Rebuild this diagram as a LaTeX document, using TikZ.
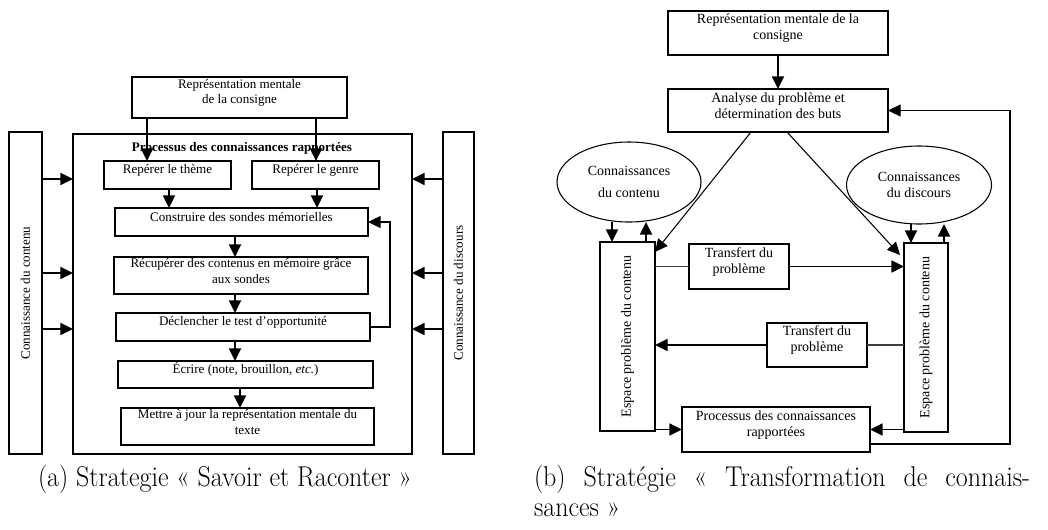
\documentclass[tikz,border=0pt]{standalone}
\usepackage{fontspec}
\newfontfamily\tnr{Liberation Serif}
\usetikzlibrary{arrows.meta,fit,shapes.geometric}
\begin{document}
\begin{tikzpicture}[x=0.75pt,y=-0.75pt,
  every node/.style={inner sep=0pt, outer sep=0pt},
  abox/.style={draw, line width=0.9pt, align=center, font=\tnr\fontsize{9.8}{11.5}\selectfont},
  bbox/.style={draw, line width=0.8pt, align=center, font=\tnr\fontsize{10.5}{12}\selectfont},
  atext/.style={font=\tnr\fontsize{9.8}{11.5}\selectfont},
  btext/.style={font=\tnr\fontsize{10.5}{12}\selectfont},
  arr/.style={line width=1.3pt, -{Triangle[length=9.5pt,width=9pt]}},
  tarr/.style={line width=0.8pt, -{Triangle[length=9.5pt,width=9pt]}},
  thinline/.style={line width=0.8pt, black!75},
  capfont/.style={font=\fontsize{19.5}{17.5}\selectfont},
  ]
\useasboundingbox (0,0) rectangle (1048,529);
% ---------------- (a) ----------------
\node[abox, fit={(132,77) (347,118)}] (Atop) {Représentation mentale\\de la consigne};
\node[abox, fit={(9,132) (42,454)}] (Aleft) {};
\node[atext, rotate=90] (AleftT) at (Aleft.center) {Connaissance du contenu};
\node[abox, fit={(73,134) (412,454)}] (Aproc) {};
\node[atext, font=\tnr\bfseries\fontsize{9.8}{11.5}\selectfont] (Atitle) at (242,148) {Processus des connaissances rapportées};
\node[abox, fit={(443,132) (474,454)}] (Aright) {};
\node[atext, rotate=90] (ArightT) at (Aright.center) {Connaissance du discours};
\node[abox, fit={(104,161) (231,189)}] (Atheme) {Repérer le thème};
\node[abox, fit={(252,161) (379,189)}] (Agenre) {Repérer le genre};
\node[abox, fit={(115,208) (368,236)}] (Aconstr) {Construire des sondes mémorielles};
\node[abox, fit={(114,257) (368,294)}] (Arecup) {Récupérer des contenus en mémoire grâce\\aux sondes};
\node[abox, fit={(116,313) (370,341)}] (Adecl) {Déclencher le test d’opportunité};
\node[abox, fit={(118,361) (373,388)}] (Aecr) {Écrire (note, brouillon, \textit{etc.})};
\node[abox, fit={(121,408) (374,445)}] (Amaj) {Mettre à jour la représentation mentale du\\texte};

\draw[arr] (Atop.south -| 147,0) -- (Atheme.north -| 147,0);
\draw[arr] (Atop.south -| 316,0) -- (Agenre.north -| 316,0);
\draw[arr] (Atheme.south -| 169,0) -- (Aconstr.north -| 169,0);
\draw[arr] (Agenre.south -| 317,0) -- (Aconstr.north -| 317,0);
\draw[arr] (Aconstr.south -| 235,0) -- (Arecup.north -| 235,0);
\draw[arr] (Arecup.south -| 235,0) -- (Adecl.north -| 235,0);
\draw[arr] (Adecl.south -| 235,0) -- (Aecr.north -| 235,0);
\draw[arr] (Aecr.south -| 240,0) -- (Amaj.north -| 240,0);
\draw[arr, line width=0.9pt] (Adecl.east) -- (390,0 |- Adecl.east) |- (Aconstr.east);
\foreach \yy in {179,273,329}{
  \draw[arr] (Aleft.east |- 0,\yy) -- (Aproc.west |- 0,\yy);
  \draw[arr] (Aright.west |- 0,\yy) -- (Aproc.east |- 0,\yy);
}
% ---------------- (b) ----------------
\node[bbox, fit={(668,11) (888,55)}] (Btop) {Représentation mentale de la\\consigne};
\node[bbox, fit={(668,89) (888,132)}] (Banal) {Analyse du problème et\\détermination des buts};
\node[draw, ellipse, line width=0.8pt, minimum width=144*0.75pt, minimum height=80*0.75pt, align=center,
      font=\tnr\fontsize{10.5}{17}\selectfont] (BellL) at (629,182) {Connaissances\\du contenu};
\node[draw, ellipse, line width=0.8pt, minimum width=145*0.75pt, minimum height=78*0.75pt, align=center,
      font=\tnr\fontsize{10.5}{12.5}\selectfont] (BellR) at (919,185) {Connaissances\\du discours};
\node[bbox, fit={(600,242) (655,431)}] (BespL) {};
\node[btext, rotate=90] (BespLT) at (BespL.center) {Espace problème du contenu};
\node[bbox, fit={(904,243) (948,432)}] (BespR) {};
\node[btext, rotate=90] (BespRT) at (BespR.center) {Espace problème du contenu};
\node[bbox, fit={(689,244) (789,289)}] (Btr1) {Transfert du\\problème};
\node[bbox, fit={(767,323) (867,367)}] (Btr2) {Transfert du\\problème};
\node[bbox, fit={(682,407) (870,452)}] (Bproc) {Processus des connaissances\\rapportées};

\draw[arr] (Btop.south) -- (Banal.north);
\draw[tarr] (Banal.south -| 751,0) -- ([yshift=-7.5pt]BespL.north east);
\draw[tarr] (Banal.south -| 787,0) -- ([xshift=-3pt,yshift=-9pt]BespR.north west);
\draw[arr] (BellL.south -| 612,0) -- (BespL.north -| 612,0);
\draw[arr] (BespL.north -| 646,0) -- (BellL.south -| 646,0);
\draw[arr] (BellR.south -| 911,0) -- (BespR.north -| 911,0);
\draw[arr] (BespR.north -| 944,0) -- (BellR.south -| 944,0);
\draw[thinline] (BespL.east |- Btr1.west) -- (Btr1.west);
\draw[arr] (Btr1.east) -- (BespR.west |- Btr1.east);
\draw[thinline] (BespR.west |- Btr2.east) -- (Btr2.east);
\draw[arr] (Btr2.west) -- (BespL.east |- Btr2.west);
\draw[arr] (BespL.east |- Bproc.west) -- (Bproc.west);
\draw[arr] (BespR.west |- Bproc.east) -- (Bproc.east);
\coordinate (fb) at (1010,444);
\draw[tarr] (Bproc.east |- fb) -- (fb) |- (Banal.east);
% ---------------- captions ----------------
\node[capfont, anchor=base west] (capa) at (38,486) {\scalebox{1}[1.1]{(a) Strategie « Savoir et Raconter »}};
\node[capfont, anchor=base west] (capb1) at (534,486) {\scalebox{1}[1.1]{\makebox[372pt][s]{(b) Stratégie « Transformation de connais-}}};
\node[capfont, anchor=base west] (capb2) at (534,516) {\scalebox{1}[1.1]{sances »}};
\end{tikzpicture}
\end{document}
